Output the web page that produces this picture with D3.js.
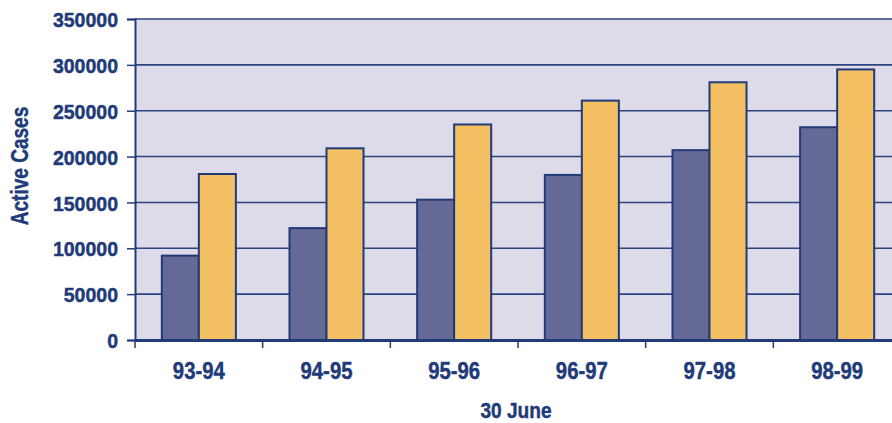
<!DOCTYPE html>
<html>
<head>
<meta charset="utf-8">
<script src="https://cdn.jsdelivr.net/npm/d3@7"></script>
<style>
  html, body { margin: 0; padding: 0; background: #ffffff; }
  svg { display: block; }
  .lbl { font-family: "Liberation Sans", Arial, sans-serif; font-weight: bold; fill: #213a78; stroke: #213a78; stroke-width: 0.45px; }
</style>
</head>
<body>
<svg id="chart" width="892" height="423"></svg>
<script>
// Active cases at 30 June, two series per financial year
const years = ["93-94", "94-95", "95-96", "96-97", "97-98", "98-99"];
const seriesA = [92000, 122000, 153000, 180000, 207000, 232000];
const seriesB = [181000, 209000, 235000, 261000, 281000, 295000];
const yTicks = [0, 50000, 100000, 150000, 200000, 250000, 300000, 350000];

const navy = "#213a78";
const colA = "#646996";
const colB = "#f3c063";

const svg = d3.select("#chart");
const plotL = 135, plotR = 901, plotT = 19, plotB = 340;

const x0 = d3.scaleBand().domain(years).range([plotL, plotR]).padding(0);
const x1 = d3.scaleBand().domain(["a", "b"])
  .range([x0.bandwidth() * 0.21, x0.bandwidth() * 0.79]).padding(0);
const y = d3.scaleLinear().domain([0, 350000]).range([plotB, plotT]);

// plot background
svg.append("rect")
  .attr("x", plotL).attr("y", plotT)
  .attr("width", plotR - plotL).attr("height", plotB - plotT)
  .attr("fill", "#dddbe9");

// horizontal grid lines
svg.append("g").selectAll("line")
  .data(yTicks.filter(d => d > 0))
  .join("line")
  .attr("x1", plotL).attr("x2", plotR)
  .attr("y1", d => y(d)).attr("y2", d => y(d))
  .attr("stroke", "#2d437e").attr("stroke-width", 1.6);

// bars
const groups = svg.append("g").selectAll("g")
  .data(years.map((yr, i) => ({ yr, vals: [["a", seriesA[i]], ["b", seriesB[i]]] })))
  .join("g")
  .attr("transform", d => `translate(${x0(d.yr)},0)`);

groups.selectAll("rect")
  .data(d => d.vals)
  .join("rect")
  .attr("x", d => x1(d[0]))
  .attr("y", d => y(d[1]))
  .attr("width", x1.bandwidth())
  .attr("height", d => plotB - y(d[1]))
  .attr("fill", d => d[0] === "a" ? colA : colB)
  .attr("stroke", navy)
  .attr("stroke-width", 2);

// left axis; labels narrowed horizontally for a condensed look
const ySx = 0.93;
const yAxis = svg.append("g")
  .attr("transform", `translate(${plotL},0)`)
  .call(d3.axisLeft(y).tickValues(yTicks).tickSize(8).tickPadding(9).tickFormat(d3.format("d")));
yAxis.select(".domain").attr("stroke", navy).attr("stroke-width", 2);
yAxis.selectAll(".tick line").attr("stroke", navy).attr("stroke-width", 1.5);
yAxis.selectAll(".tick text")
  .attr("class", "lbl")
  .attr("font-size", 21)
  .attr("x", -17 / ySx)
  .attr("dy", "0.36em")
  .attr("transform", `scale(${ySx},1)`);

// bottom axis, category labels centred in each band
const xAxis = svg.append("g")
  .attr("transform", `translate(0,${plotB})`)
  .call(d3.axisBottom(x0).tickSize(0).tickPadding(22));
xAxis.select(".domain").attr("stroke", navy).attr("stroke-width", 3);
xAxis.selectAll(".tick text")
  .attr("class", "lbl")
  .attr("font-size", 24.5)
  .attr("transform", "scale(0.83,1)");

// tick marks at category boundaries
svg.append("g").selectAll("line")
  .data(years)
  .join("line")
  .attr("x1", d => x0(d)).attr("x2", d => x0(d))
  .attr("y1", plotB).attr("y2", plotB + 8)
  .attr("stroke", navy).attr("stroke-width", 1.5);

// axis titles
svg.append("text")
  .attr("class", "lbl")
  .attr("transform", "translate(516,418) scale(0.85,1)")
  .attr("text-anchor", "middle")
  .attr("font-size", 22.5)
  .text("30 June");

svg.append("text")
  .attr("class", "lbl")
  .attr("transform", "translate(28,166) rotate(-90) scale(0.81,1)")
  .attr("text-anchor", "middle")
  .attr("font-size", 23.5)
  .text("Active Cases");
</script>
</body>
</html>
